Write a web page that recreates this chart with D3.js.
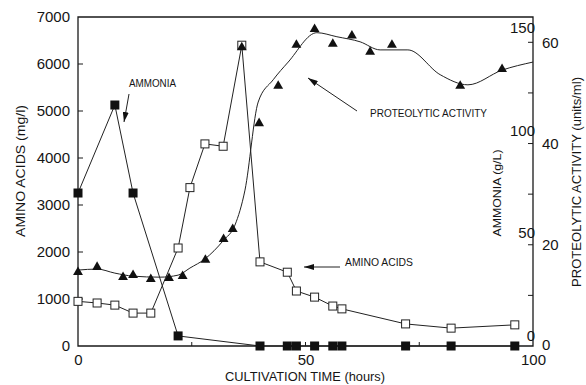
<!DOCTYPE html>
<html>
<head>
<meta charset="utf-8">
<script src="https://cdn.jsdelivr.net/npm/d3@7"></script>
<style>
  html, body { margin: 0; padding: 0; background: #fff; }
  svg text { font-family: "Liberation Sans", Arial, sans-serif; fill: #151515; }
</style>
</head>
<body>
<svg id="chart" width="586" height="385"></svg>
<script>
// Cultivation time (hours)
const ammoniaHours = [0, 8.1, 12.1, 22, 40, 46, 48, 52, 56, 58, 72, 82, 96];
// Ammonia (g/L)
const ammoniaValues = [74.4, 117.2, 74.4, 4.9, 0, 0, 0, 0, 0, 0, 0, 0, 0];

const aminoHours = [0, 4.2, 8.1, 12.1, 16, 22, 24.6, 27.9, 31.9, 36, 40, 46, 48, 52, 56, 58, 72, 82, 96];
// Amino acids (mg/l)
const aminoValues = [950, 915, 870, 700, 700, 2085, 3370, 4300, 4250, 6400, 1790, 1570, 1170, 1040, 850, 790, 470, 380, 450];

const activityHours = [0, 4.2, 9.9, 12.1, 16, 20, 23, 28, 32, 34, 36, 39.8, 44, 48, 52, 56, 60.2, 64.2, 69, 84, 93.2];
// Proteolytic activity (units/ml)
const activityValues = [14.6, 15.6, 13.6, 14.0, 13.2, 13.4, 13.8, 17.0, 21.1, 23.1, 59.0, 44.0, 51.4, 59.5, 62.6, 59.7, 61.3, 58.1, 59.5, 51.4, 54.7];

// Smoothed trend drawn through the activity measurements
const activityFitHours = [0, 4.2, 8.1, 12.1, 18, 22, 24.6, 27.9, 31.9, 34.5, 36.7, 39.6, 42.9, 46.2, 52.5, 56.9, 62, 66.4, 72.5, 79.6, 85.7, 93.2, 100];
const activityFitValues = [15.0, 15.2, 14.4, 13.8, 13.6, 14.0, 15.4, 17.2, 20.8, 23.9, 30.8, 48.2, 52.6, 56.1, 61.9, 61.1, 60.1, 58.5, 58.5, 53.6, 51.6, 54.5, 56.1];

const timeTicks = [0, 50, 100];
const timeMinorTicks = [25, 50, 75];
const aminoTicks = [0, 1000, 2000, 3000, 4000, 5000, 6000, 7000];
const ammoniaTicks = [0, 50, 100, 150];
const activityTicks = [0, 20, 40, 60];
const activityMinorTicks = [10, 20, 30, 40, 50, 60];

const svg = d3.select("#chart");
const plotLeft = 78, plotRight = 533, plotTop = 17, plotBottom = 346;

const x = d3.scaleLinear().domain([0, 100]).range([plotLeft, plotRight]);
const yAmino = d3.scaleLinear().domain([0, 7000]).range([plotBottom, plotTop]);
const yAmmonia = d3.scaleLinear().domain([0, 160]).range([plotBottom, plotTop]);
const yActivity = d3.scaleLinear().domain([0, 65]).range([plotBottom, plotTop]);

const ink = "#1a1a1a";

// Frame
svg.append("path")
  .attr("d", `M${plotLeft},${plotTop}H${plotRight}V${plotBottom}H${plotLeft}Z`)
  .attr("fill", "none").attr("stroke", ink).attr("stroke-width", 1.3);

// Bottom axis
const xAxis = d3.axisBottom(x).tickValues(timeTicks).tickSize(0).tickPadding(8);
const gx = svg.append("g").attr("transform", `translate(0,${plotBottom})`).call(xAxis);
gx.select(".domain").remove();
gx.selectAll("text").attr("font-size", 15).attr("fill", ink).style("font-family", "Liberation Sans, Arial");
svg.append("g").selectAll("line").data(timeMinorTicks).join("line")
  .attr("x1", d => x(d)).attr("x2", d => x(d))
  .attr("y1", plotBottom).attr("y2", plotBottom - 4)
  .attr("stroke", ink).attr("stroke-width", 1);

// Left axis
const yAxis = d3.axisLeft(yAmino).tickValues(aminoTicks).tickSize(0).tickPadding(8).tickFormat(d3.format("d"));
const gy = svg.append("g").attr("transform", `translate(${plotLeft},0)`).call(yAxis);
gy.select(".domain").remove();
gy.selectAll("text").attr("font-size", 15).attr("fill", ink).style("font-family", "Liberation Sans, Arial");
svg.append("g").selectAll("line").data(aminoTicks.slice(1, -1)).join("line")
  .attr("x1", plotLeft).attr("x2", plotLeft + 5)
  .attr("y1", d => yAmino(d)).attr("y2", d => yAmino(d))
  .attr("stroke", ink).attr("stroke-width", 1);

// Right axis: proteolytic activity outside, ammonia inside
const yAct = d3.axisRight(yActivity).tickValues(activityTicks).tickSize(0).tickPadding(9);
const ga = svg.append("g").attr("transform", `translate(${plotRight},0)`).call(yAct);
ga.select(".domain").remove();
ga.selectAll("text").attr("font-size", 15).attr("fill", ink).style("font-family", "Liberation Sans, Arial");
// the zero label sits a touch higher so it clears the time axis label below it
ga.selectAll("text").filter(d => d === 0).attr("dy", "0.2em");
svg.append("g").selectAll("line").data(activityMinorTicks).join("line")
  .attr("x1", plotRight).attr("x2", plotRight - 5)
  .attr("y1", d => yActivity(d)).attr("y2", d => yActivity(d))
  .attr("stroke", ink).attr("stroke-width", 1);

svg.append("g").selectAll("text").data(ammoniaTicks).join("text")
  .attr("x", plotRight + 2)
  .attr("y", d => yAmmonia(d) - 10)
  .attr("dy", "0.35em")
  .attr("text-anchor", "end")
  .attr("font-size", 15)
  .text(d => d);

// Series
const ammoniaData = ammoniaHours.map((h, i) => ({ h, v: ammoniaValues[i] }));
const aminoData = aminoHours.map((h, i) => ({ h, v: aminoValues[i] }));
const activityData = activityHours.map((h, i) => ({ h, v: activityValues[i] }));
const fitData = activityFitHours.map((h, i) => ({ h, v: activityFitValues[i] }));

const lineStyle = sel => sel.attr("fill", "none").attr("stroke", "#222").attr("stroke-width", 1);

svg.append("path").datum(fitData).call(lineStyle)
  .attr("d", d3.line().x(d => x(d.h)).y(d => yActivity(d.v)).curve(d3.curveMonotoneX));
svg.append("path").datum(aminoData).call(lineStyle)
  .attr("d", d3.line().x(d => x(d.h)).y(d => yAmino(d.v)));
svg.append("path").datum(ammoniaData).call(lineStyle)
  .attr("d", d3.line().x(d => x(d.h)).y(d => yAmmonia(d.v)));

// Open squares: amino acids
svg.append("g").selectAll("rect").data(aminoData).join("rect")
  .attr("x", d => x(d.h) - 4).attr("y", d => yAmino(d.v) - 4)
  .attr("width", 8).attr("height", 8)
  .attr("fill", "#fff").attr("stroke", "#222").attr("stroke-width", 1);

// Filled triangles: proteolytic activity
const tri = d3.symbol().type(d3.symbolTriangle).size(42);
svg.append("g").selectAll("path").data(activityData).join("path")
  .attr("transform", d => `translate(${x(d.h)},${yActivity(d.v)})`)
  .attr("d", tri).attr("fill", "#111");

// Filled squares: ammonia
svg.append("g").selectAll("rect").data(ammoniaData).join("rect")
  .attr("x", d => x(d.h) - 4.5).attr("y", d => yAmmonia(d.v) - 4.5)
  .attr("width", 9).attr("height", 9)
  .attr("fill", "#111");

// Arrowhead marker
svg.append("defs").append("marker")
  .attr("id", "arrow").attr("viewBox", "0 0 10 6")
  .attr("refX", 10).attr("refY", 3)
  .attr("markerWidth", 10).attr("markerHeight", 6)
  .attr("markerUnits", "userSpaceOnUse")
  .attr("orient", "auto")
  .append("path").attr("d", "M0,0L10,3L0,6Z").attr("fill", "#111");

// Series annotations
const notes = [
  { text: "AMMONIA", tx: 129, ty: 87, len: 47, from: [129, 94], to: [124, 122] },
  { text: "PROTEOLYTIC  ACTIVITY", tx: 370, ty: 117, len: 117, from: [357, 111], to: [308, 78] },
  { text: "AMINO  ACIDS", tx: 345, ty: 266, len: 68, from: [340, 267], to: [304, 267] }
];
notes.forEach(n => {
  svg.append("text").attr("x", n.tx).attr("y", n.ty)
    .attr("font-size", 10.5)
    .attr("textLength", n.len).attr("lengthAdjust", "spacingAndGlyphs")
    .text(n.text);
  svg.append("line")
    .attr("x1", n.from[0]).attr("y1", n.from[1])
    .attr("x2", n.to[0]).attr("y2", n.to[1])
    .attr("stroke", "#222").attr("stroke-width", 1)
    .attr("marker-end", "url(#arrow)");
});

// Axis titles
svg.append("text").attr("x", 305).attr("y", 381)
  .attr("text-anchor", "middle").attr("font-size", 12)
  .attr("textLength", 160).attr("lengthAdjust", "spacingAndGlyphs")
  .text("CULTIVATION TIME (hours)");

svg.append("text").attr("transform", "translate(25,171) rotate(-90)")
  .attr("text-anchor", "middle").attr("font-size", 12)
  .attr("textLength", 132).attr("lengthAdjust", "spacingAndGlyphs")
  .text("AMINO ACIDS (mg/l)");

svg.append("text").attr("transform", "translate(501,193) rotate(-90)")
  .attr("text-anchor", "middle").attr("font-size", 11)
  .attr("textLength", 87).attr("lengthAdjust", "spacingAndGlyphs")
  .text("AMMONIA (g/L)");

svg.append("text").attr("transform", "translate(581,182) rotate(-90)")
  .attr("text-anchor", "middle").attr("font-size", 12)
  .attr("textLength", 210).attr("lengthAdjust", "spacingAndGlyphs")
  .text("PROTEOLYTIC ACTIVITY (units/ml)");
</script>
</body>
</html>
